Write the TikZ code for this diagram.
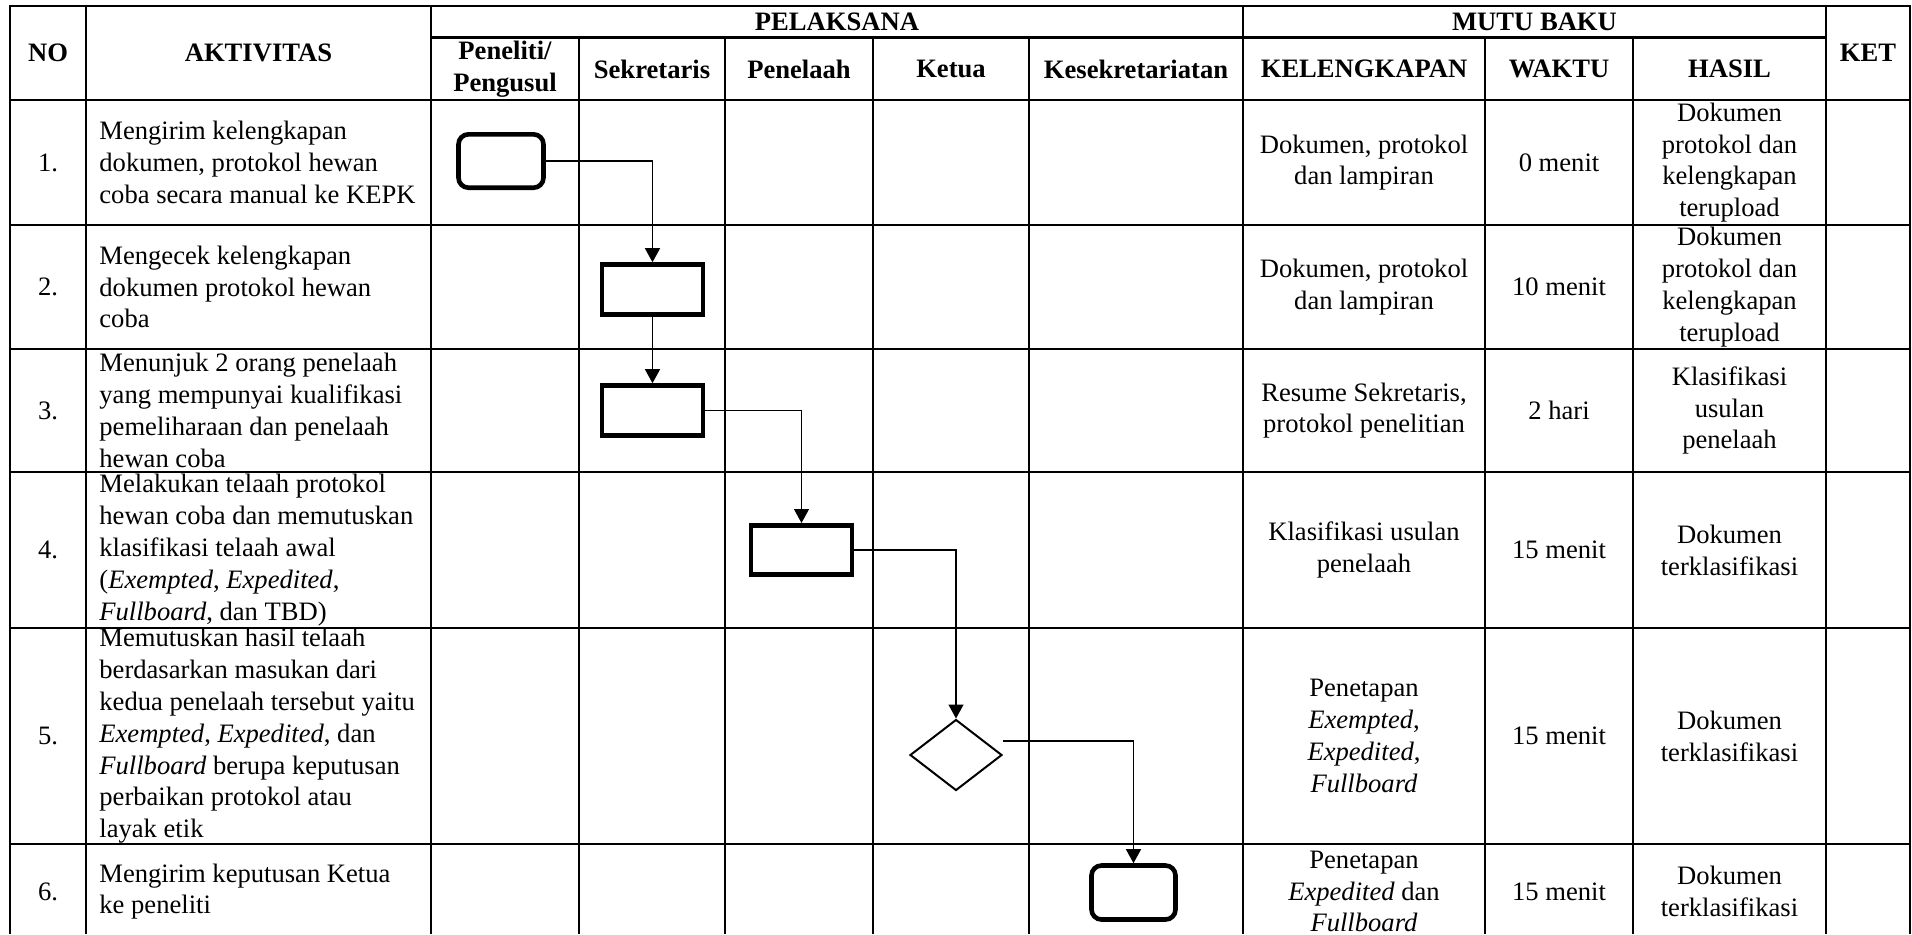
\documentclass[tikz,border=0pt]{standalone}
\usepackage{fontspec}
\setmainfont{Liberation Serif}
\usepackage{tikz}
\usetikzlibrary{shapes.geometric}
\usetikzlibrary{arrows.meta}

\begin{document}
\begin{tikzpicture}[x=0.5pt,y=-0.5pt,
	font=\fontsize{13.3}{15.9}\selectfont,
	grid/.style={line width=1.2pt},
	cell/.style={align=center,inner sep=0pt},
	act/.style={align=left,inner sep=0pt,anchor=west},
	head/.style={cell,font=\fontsize{13.3}{15.9}\selectfont\bfseries},
	proc node/.style={draw,line width=2.3pt,minimum width=50.6pt,minimum height=25pt,inner sep=0pt},
	term node/.style={proc node,rounded corners=5pt},
	dec node/.style={diamond,draw,line width=1pt,minimum width=46pt,minimum height=35.5pt,inner sep=0pt},
	flow/.style={-{Triangle[length=7pt,width=7.5pt]},line width=0.65pt}]
	
	\useasboundingbox (0,0) rectangle (1912,934);
	
	% table frame
	\draw[grid] (10,934) -- (10,6) -- (1910,6) -- (1910,934);
	\draw[grid] (431,37.5) -- (1826,37.5);
	\draw[grid] (10,100) -- (1910,100);
	\draw[grid] (10,225) -- (1910,225);
	\draw[grid] (10,349) -- (1910,349);
	\draw[grid] (10,472) -- (1910,472);
	\draw[grid] (10,628) -- (1910,628);
	\draw[grid] (10,844) -- (1910,844);
	\draw[grid] (86,6) -- (86,934);
	\draw[grid] (431,6) -- (431,934);
	\draw[grid] (1243,6) -- (1243,934);
	\draw[grid] (1826,6) -- (1826,934);
	\draw[grid] (579,37.5) -- (579,934);
	\draw[grid] (725,37.5) -- (725,934);
	\draw[grid] (873,37.5) -- (873,934);
	\draw[grid] (1029,37.5) -- (1029,934);
	\draw[grid] (1485,37.5) -- (1485,934);
	\draw[grid] (1633,37.5) -- (1633,934);
	
	% header
	\node[head] (no) at (48,53) {NO};
	\node[head] (aktivitas) at (258.5,53) {AKTIVITAS};
	\node[head] (pelaksana) at (837,22) {PELAKSANA};
	\node[head] (mutubaku) at (1534.5,22) {MUTU BAKU};
	\node[head] (ket) at (1868,53) {KET};
	\node[head] (peneliti) at (505,69) {Peneliti/\\Pengusul};
	\node[head] (sekretaris) at (652,69) {Sekretaris};
	\node[head] (penelaah) at (799,69) {Penelaah};
	\node[head] (ketua) at (951,69) {Ketua};
	\node[head] (kesek) at (1136,69) {Kesekretariatan};
	\node[head] (kelengkapan) at (1364,69) {KELENGKAPAN};
	\node[head] (waktu) at (1559,69) {WAKTU};
	\node[head] (hasil) at (1729.5,69) {HASIL};
	
	% row 1
	\node[cell] (no1) at (48,162.5) {1.};
	\node[act] (akt1) at (99,162.5) {Mengirim kelengkapan\\dokumen, protokol hewan\\coba secara manual ke KEPK};
	\node[cell] (kel1) at (1364,162.5) {Dokumen, protokol\\dan lampiran};
	\node[cell] (wak1) at (1559,162.5) {0 menit};
	\node[cell] (has1) at (1729.5,162.5) {Dokumen\\protokol dan\\kelengkapan\\terupload};
	
	% row 2
	\node[cell] (no2) at (48,287) {2.};
	\node[act] (akt2) at (99,287) {Mengecek kelengkapan\\dokumen protokol hewan\\coba};
	\node[cell] (kel2) at (1364,287) {Dokumen, protokol\\dan lampiran};
	\node[cell] (wak2) at (1559,287) {10 menit};
	\node[cell] (has2) at (1729.5,287) {Dokumen\\protokol dan\\kelengkapan\\terupload};
	
	% row 3
	\node[cell] (no3) at (48,410.5) {3.};
	\node[act] (akt3) at (99,410.5) {Menunjuk 2 orang penelaah\\yang mempunyai kualifikasi\\pemeliharaan dan penelaah\\hewan coba};
	\node[cell] (kel3) at (1364,410.5) {Resume Sekretaris,\\protokol penelitian};
	\node[cell] (wak3) at (1559,410.5) {2 hari};
	\node[cell] (has3) at (1729.5,410.5) {Klasifikasi\\usulan\\penelaah};
	
	% row 4
	\node[cell] (no4) at (48,550) {4.};
	\node[act] (akt4) at (99,550) {Melakukan telaah protokol\\hewan coba dan memutuskan\\klasifikasi telaah awal\\(\textit{Exempted}, \textit{Expedited},\\\textit{Fullboard}, dan TBD)};
	\node[cell] (kel4) at (1364,550) {Klasifikasi usulan\\penelaah};
	\node[cell] (wak4) at (1559,550) {15 menit};
	\node[cell] (has4) at (1729.5,550) {Dokumen\\terklasifikasi};
	
	% row 5
	\node[cell] (no5) at (48,736) {5.};
	\node[act] (akt5) at (99,736) {Memutuskan hasil telaah\\berdasarkan masukan dari\\kedua penelaah tersebut yaitu\\\textit{Exempted}, \textit{Expedited}, dan\\\textit{Fullboard} berupa keputusan\\perbaikan protokol atau\\layak etik};
	\node[cell] (kel5) at (1364,736) {Penetapan\\\textit{Exempted},\\\textit{Expedited},\\\textit{Fullboard}};
	\node[cell] (wak5) at (1559,736) {15 menit};
	\node[cell] (has5) at (1729.5,736) {Dokumen\\terklasifikasi};
	
	% row 6
	\node[cell] (no6) at (48,891.5) {6.};
	\node[act] (akt6) at (99,891.5) {Mengirim keputusan Ketua\\ke peneliti};
	\node[cell] (kel6) at (1364,891.5) {Penetapan\\\textit{Expedited} dan\\\textit{Fullboard}};
	\node[cell] (wak6) at (1559,891.5) {15 menit};
	\node[cell] (has6) at (1729.5,891.5) {Dokumen\\terklasifikasi};
	
	% flow symbols
	\node[term node,minimum width=42.5pt,minimum height=26.7pt] (kirim) at (501,161) {};
	\node[proc node] (cek) at (652.5,289.5) {};
	\node[proc node] (tunjuk) at (652.5,410.5) {};
	\node[proc node,minimum height=24.7pt] (telaah) at (801.5,550) {};
	\node[dec node] (putus) at (956,755) {};
	\node[term node,minimum width=42pt,minimum height=27pt] (kirimkpt) at (1133.5,892.5) {};
	
	\draw[flow] (kirim.east) -| (cek.north);
	\draw[flow] (cek.south) -- (tunjuk.north);
	\draw[flow] (tunjuk.east) -| (telaah.north);
	\draw[flow] (telaah.east) -| (putus.north);
	\draw[flow] ([yshift=7pt]putus.east) -| (kirimkpt.north);
\end{tikzpicture}
\end{document}
